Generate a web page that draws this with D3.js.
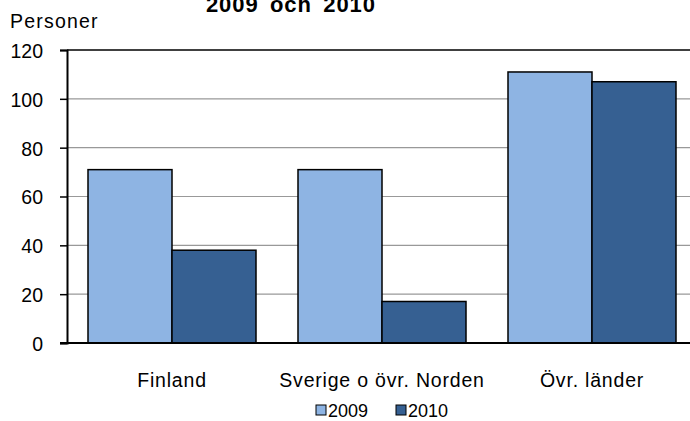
<!DOCTYPE html>
<html>
<head>
<meta charset="utf-8">
<script src="https://cdn.jsdelivr.net/npm/d3@7"></script>
<style>
    body { margin: 0; background: #fff; }
    text { font-family: "Liberation Sans", Arial, sans-serif; fill: #000; }
</style>
</head>
<body>
<div id="chart"></div>
<script>
(function () {
    'use strict';

    var categories = ['Finland', 'Sverige o övr. Norden', 'Övr. länder'];
    var seriesNames = ['2009', '2010'];
    var values2009 = [71, 71, 111];
    var values2010 = [38, 17, 107];
    var yTicks = [0, 20, 40, 60, 80, 100, 120];
    var colors = ['#8EB4E3', '#366092'];

    var _width = 690;
    var _height = 421;
    var margin = { left: 67, top: 50, bottom: 343, right: 697 };

    var data = categories.map(function (c, i) {
        return { category: c, values: [values2009[i], values2010[i]] };
    });

    var svg = d3.select('#chart').append('svg')
        .attr('width', _width)
        .attr('height', _height);

    var x = d3.scaleBand()
        .domain(categories)
        .range([margin.left, margin.right])
        .paddingInner(0.2)
        .paddingOuter(0.1);

    var xInner = d3.scaleBand()
        .domain(seriesNames)
        .range([0, x.bandwidth()]);

    var y = d3.scaleLinear()
        .domain([0, 120])
        .range([margin.bottom, margin.top]);

    // grid lines
    svg.append('g').selectAll('line')
        .data(yTicks.filter(function (t) { return t > 0; }))
        .enter().append('line')
        .attr('x1', margin.left)
        .attr('x2', _width)
        .attr('y1', function (d) { return y(d); })
        .attr('y2', function (d) { return y(d); })
        .style('stroke', function (d) { return d === 120 ? '#000' : '#999'; })
        .style('stroke-width', function (d) { return d === 120 ? 1.5 : 1.2; });

    // bars
    var groups = svg.append('g').selectAll('g')
        .data(data)
        .enter().append('g')
        .attr('transform', function (d) { return 'translate(' + x(d.category) + ',0)'; });

    groups.selectAll('rect')
        .data(function (d) { return d.values.map(function (v, i) { return { key: seriesNames[i], value: v, i: i }; }); })
        .enter().append('rect')
        .attr('x', function (d) { return xInner(d.key); })
        .attr('y', function (d) { return y(d.value); })
        .attr('width', xInner.bandwidth())
        .attr('height', function (d) { return y(0) - y(d.value); })
        .style('fill', function (d) { return colors[d.i]; })
        .style('stroke', '#000')
        .style('stroke-width', 1.5);

    // y axis
    var yAxis = d3.axisLeft(y).tickValues(yTicks).tickSize(7).tickPadding(17);
    var gy = svg.append('g')
        .attr('transform', 'translate(' + margin.left + ',0)')
        .call(yAxis);
    gy.select('.domain').style('stroke', '#000').style('stroke-width', 2);
    gy.selectAll('.tick line').style('stroke', '#000').style('stroke-width', 1.5);
    gy.selectAll('.tick text')
        .style('font-size', '19.5px')
        .attr('dy', '0.38em');

    // x axis line
    svg.append('line')
        .attr('x1', margin.left - 7)
        .attr('x2', _width)
        .attr('y1', y(0))
        .attr('y2', y(0))
        .style('stroke', '#000')
        .style('stroke-width', 2);

    // category labels
    svg.append('g').selectAll('text')
        .data(categories)
        .enter().append('text')
        .attr('x', function (d) { return x(d) + x.bandwidth() / 2; })
        .attr('y', 387)
        .attr('text-anchor', 'middle')
        .style('font-size', '19.5px')
        .style('letter-spacing', '0.8px')
        .text(function (d) { return d; });

    // axis title
    svg.append('text')
        .attr('x', 10)
        .attr('y', 28)
        .style('font-size', '19.5px')
        .style('letter-spacing', '1.2px')
        .text('Personer');

    // chart title (first line falls outside the picture)
    svg.append('text')
        .attr('x', 291)
        .attr('y', 12)
        .attr('text-anchor', 'middle')
        .style('font-size', '22px')
        .style('font-weight', 'bold')
        .style('letter-spacing', '1px')
        .style('word-spacing', '4px')
        .text('2009 och 2010');

    // legend
    var legend = svg.append('g');
    var legendX = [316, 396];
    seriesNames.forEach(function (name, i) {
        legend.append('rect')
            .attr('x', legendX[i])
            .attr('y', 405)
            .attr('width', 10)
            .attr('height', 10)
            .style('fill', colors[i])
            .style('stroke', '#000')
            .style('stroke-width', 1);
        legend.append('text')
            .attr('x', legendX[i] + 12)
            .attr('y', 417)
            .style('font-size', '18px')
            .text(name);
    });
})();
</script>
</body>
</html>
